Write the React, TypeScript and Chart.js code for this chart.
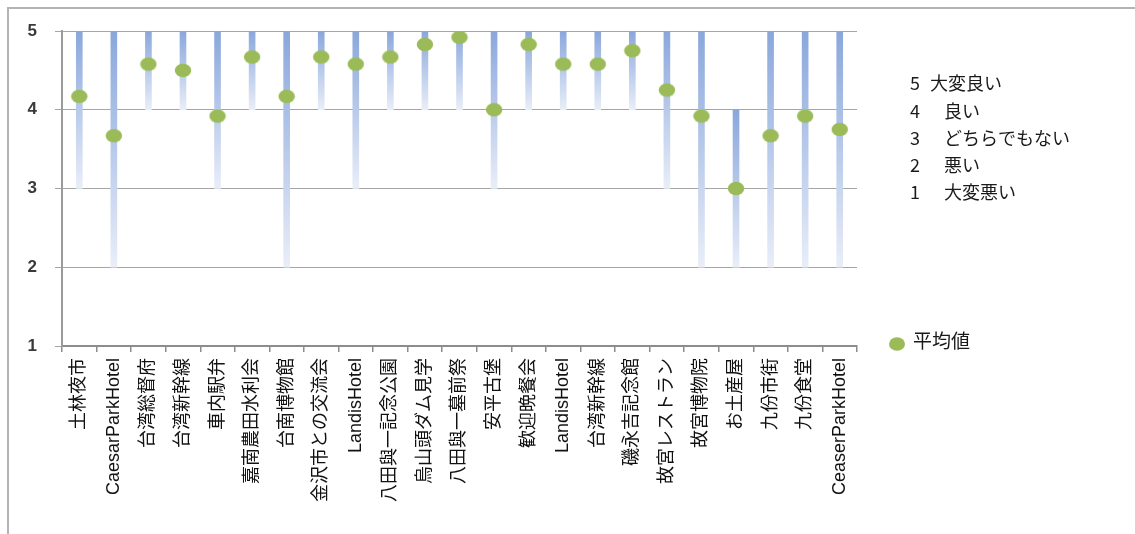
import React, { useEffect, useRef } from "react";
import { Chart, registerables } from "chart.js";

Chart.register(...registerables);

// Places visited, in order
const categories = [
  "土林夜市",
  "CaesarParkHotel",
  "台湾総督府",
  "台湾新幹線",
  "車内駅弁",
  "嘉南農田水利会",
  "台南博物館",
  "金沢市との交流会",
  "LandisHotel",
  "八田與一記念公園",
  "烏山頭ダム見学",
  "八田與一墓前祭",
  "安平古堡",
  "歓迎晩餐会",
  "LandisHotel",
  "台湾新幹線",
  "磯永吉記念館",
  "故宮レストラン",
  "故宮博物院",
  "お土産屋",
  "九份市街",
  "九份食堂",
  "CeaserParkHotel",
];

// Lowest and highest rating given for each item
const minScores = [3, 2, 4, 4, 3, 4, 2, 4, 3, 4, 4, 4, 3, 4, 4, 4, 4, 3, 2, 2, 2, 2, 2];
const maxScores = [5, 5, 5, 5, 5, 5, 5, 5, 5, 5, 5, 5, 5, 5, 5, 5, 5, 5, 5, 4, 5, 5, 5];

// Average rating
const meanScores = [
  4.17, 3.67, 4.58, 4.5, 3.92, 4.67, 4.17, 4.67, 4.58, 4.67, 4.83, 4.92,
  4.0, 4.83, 4.58, 4.58, 4.75, 4.25, 3.92, 3.0, 3.67, 3.92, 3.75,
];

const yTicks = [1, 2, 3, 4, 5];

// Rating scale explanation shown at the right
const scaleNumbers = ["5", "4", "3", "2", "1"];
const scaleTexts = ["大変良い", "良い", "どちらでもない", "悪い", "大変悪い"];
const meanLabel = "平均値";

const GREEN = "#9bbb59";
const JP_FONT = '"Noto Sans CJK JP", "Liberation Sans", sans-serif';

function makeDot(): HTMLCanvasElement {
  const c = document.createElement("canvas");
  c.width = 18;
  c.height = 15;
  const g = c.getContext("2d")!;
  g.fillStyle = GREEN;
  g.beginPath();
  g.ellipse(9, 7.5, 8.2, 6.8, 0, 0, Math.PI * 2);
  g.fill();
  return c;
}

const sidePanel = {
  id: "sidePanel",
  beforeDraw(chart: any) {
    const ctx = chart.ctx as CanvasRenderingContext2D;
    ctx.save();
    // outer frame (top and left edges)
    ctx.fillStyle = "#b4b4b4";
    ctx.fillRect(7, 7, 1135 - 7, 2);
    ctx.fillRect(7, 7, 2, 534 - 7);
    ctx.restore();
  },
  afterDraw(chart: any) {
    const ctx = chart.ctx as CanvasRenderingContext2D;
    ctx.save();
    ctx.fillStyle = "#1a1a1a";
    ctx.textBaseline = "middle";
    ctx.font = `18px ${JP_FONT}`;
    const rowY = [83, 111, 138, 165, 192];
    scaleNumbers.forEach((n, i) => {
      ctx.fillText(n, 910, rowY[i]);
      ctx.fillText(scaleTexts[i], i === 0 ? 930 : 944, rowY[i]);
    });
    // mean marker key
    ctx.fillStyle = GREEN;
    ctx.beginPath();
    ctx.ellipse(897, 344, 8, 6.8, 0, 0, Math.PI * 2);
    ctx.fill();
    ctx.fillStyle = "#1a1a1a";
    ctx.font = `19px ${JP_FONT}`;
    ctx.fillText(meanLabel, 913, 341);
    ctx.restore();
  },
};

export default function App() {
  const ref = useRef<HTMLCanvasElement>(null);

  useEffect(() => {
    const canvas = ref.current!;
    const dot = makeDot();
    const chart = new Chart(canvas, {
      type: "bar",
      data: {
        labels: categories,
        datasets: [
          {
            type: "line",
            label: meanLabel,
            data: meanScores,
            showLine: false,
            pointStyle: dot as any,
            pointRadius: 8,
            pointHoverRadius: 8,
            order: 0,
          } as any,
          {
            type: "bar",
            label: "range",
            data: minScores.map((m, i) => [m, maxScores[i]]),
            barThickness: 6,
            order: 1,
            backgroundColor: (ctx: any) => {
              const ch = ctx.chart;
              if (!ch.chartArea || ctx.type !== "data") return "#b4c6e7";
              const raw = ctx.raw as [number, number];
              const ys = ch.scales.y;
              const top = ys.getPixelForValue(raw[1]);
              const bot = ys.getPixelForValue(raw[0]);
              const g = ch.ctx.createLinearGradient(0, top, 0, bot);
              g.addColorStop(0, "#8aa7db");
              g.addColorStop(0.45, "#b3c6e9");
              g.addColorStop(1, "#e9eef8");
              return g;
            },
          } as any,
        ],
      },
      options: {
        responsive: false,
        animation: false,
        events: [],
        layout: { padding: { left: 0, top: 31, right: 278, bottom: 0 } },
        plugins: {
          legend: { display: false },
          tooltip: { enabled: false },
        },
        scales: {
          x: {
            type: "category",
            offset: true,
            afterFit: (s: any) => {
              s.height = 188;
            },
            grid: {
              offset: true,
              drawOnChartArea: false,
              drawTicks: true,
              tickLength: 6,
              color: "#8c8c8c",
              lineWidth: 1.5,
            },
            border: { display: true, color: "#8c8c8c", width: 2 },
            ticks: {
              autoSkip: false,
              minRotation: 90,
              maxRotation: 90,
              padding: 6,
              color: "#111",
              font: { size: 18, family: '"Liberation Sans", "Noto Sans CJK JP", sans-serif' },
            },
          },
          y: {
            min: 1,
            max: 5,
            afterFit: (s: any) => {
              s.width = 62;
            },
            afterBuildTicks: (s: any) => {
              s.ticks = yTicks.map((v) => ({ value: v }));
            },
            grid: {
              color: "#a6a6a6",
              lineWidth: 1,
              drawTicks: true,
              tickLength: 7,
            },
            border: { display: true, color: "#9a9a9a", width: 2 },
            ticks: {
              padding: 18,
              color: "#3a3a3a",
              font: { size: 17, weight: "bold", family: '"Liberation Sans", sans-serif' },
            },
          },
        },
      },
      plugins: [sidePanel],
    });
    return () => chart.destroy();
  }, []);

  return (
    <div style={{ position: "fixed", left: 0, top: 0, width: 1135, height: 534, background: "#fff" }}>
      <canvas ref={ref} width={1135} height={534} style={{ width: 1135, height: 534, display: "block" }} />
    </div>
  );
}
